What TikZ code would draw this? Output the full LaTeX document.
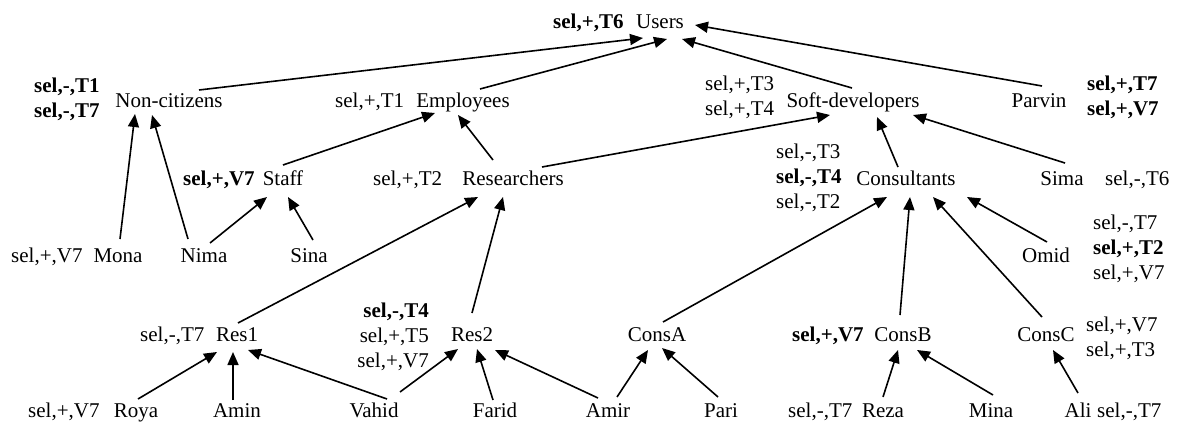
\documentclass[tikz,border=0pt]{standalone}
\usepackage{fontspec}
\setmainfont{Liberation Serif}
\usetikzlibrary{arrows.meta}
\newcommand\edgearr[4]{\draw[arr] ([shift={#2}]#1.base) -- ([shift={#4}]#3.base);}
\begin{document}
\begin{tikzpicture}[x=1pt,y=-1pt,
  txt/.style={inner sep=0pt,font=\fontsize{21}{25}\selectfont,anchor=base},
  lbl/.style={inner sep=0pt,font=\fontsize{21}{25}\selectfont,anchor=base west},
  lblr/.style={inner sep=0pt,font=\fontsize{21}{25}\selectfont,anchor=base east},
  arr/.style={line width=1.6pt,-{Triangle[length=13pt,width=11pt]}}]
\useasboundingbox (0,0) rectangle (1180,423);
% row 1
\node[txt] (users) at (660,28) {Users};
\node[lbl] (lusers) at (553,28) {\bfseries sel,+,T6};
% row 2
\node[txt] (noncit) at (169,107) {Non-citizens};
\node[lbl] (lnc1) at (34,92) {\bfseries sel,-,T1};
\node[lbl] (lnc2) at (34,117) {\bfseries sel,-,T7};
\node[txt] (emp) at (463,107) {Employees};
\node[lbl] (lemp) at (335,107) {sel,+,T1};
\node[txt] (soft) at (853,107) {Soft-developers};
\node[lbl] (lsoft1) at (705,90) {sel,+,T3};
\node[lbl] (lsoft2) at (705,115) {sel,+,T4};
\node[txt] (parvin) at (1039,107) {Parvin};
\node[lbl] (lpar1) at (1087,90) {\bfseries sel,+,T7};
\node[lbl] (lpar2) at (1087,115) {\bfseries sel,+,V7};
% row 3
\node[txt] (staff) at (283,185) {Staff};
\node[lbl] (lstaff) at (183,185) {\bfseries sel,+,V7};
\node[txt] (res) at (513,185) {Researchers};
\node[lbl] (lres) at (373,185) {sel,+,T2};
\node[txt] (cons) at (906,185) {Consultants};
\node[lbl] (lcons1) at (776,158) {sel,-,T3};
\node[lbl] (lcons2) at (776,183) {\bfseries sel,-,T4};
\node[lbl] (lcons3) at (776,208) {sel,-,T2};
\node[txt] (sima) at (1062,185) {Sima};
\node[lbl] (lsima) at (1105,185) {sel,-,T6};
% row 4
\node[txt] (mona) at (118,262) {Mona};
\node[lbl] (lmona) at (11,262) {sel,+,V7};
\node[txt] (nima) at (204,262) {Nima};
\node[txt] (sina) at (309,262) {Sina};
\node[txt] (omid) at (1046,262) {Omid};
\node[lbl] (lomid1) at (1093,229) {sel,-,T7};
\node[lbl] (lomid2) at (1093,254) {\bfseries sel,+,T2};
\node[lbl] (lomid3) at (1093,279) {sel,+,V7};
% row 5
\node[txt] (res1) at (237,341) {Res1};
\node[lbl] (lres1) at (140,341) {sel,-,T7};
\node[txt] (res2) at (472,341) {Res2};
\node[lblr] (lres21) at (429,317) {\bfseries sel,-,T4};
\node[lblr] (lres22) at (429,342) {sel,+,T5};
\node[lblr] (lres23) at (429,367) {sel,+,V7};
\node[txt] (consA) at (657,341) {ConsA};
\node[txt] (consB) at (903,341) {ConsB};
\node[lbl] (lconsB) at (792,341) {\bfseries sel,+,V7};
\node[txt] (consC) at (1046,341) {ConsC};
\node[lbl] (lconsC1) at (1086,331) {sel,+,V7};
\node[lbl] (lconsC2) at (1086,356) {sel,+,T3};
% row 6
\node[txt] (roya) at (136,417) {Roya};
\node[lbl] (lroya) at (28,417) {sel,+,V7};
\node[txt] (amin) at (237,417) {Amin};
\node[txt] (vahid) at (374,417) {Vahid};
\node[txt] (farid) at (495,417) {Farid};
\node[txt] (amir) at (608,417) {Amir};
\node[txt] (pari) at (721,417) {Pari};
\node[txt] (reza) at (883,417) {Reza};
\node[lbl] (lreza) at (788,417) {sel,-,T7};
\node[txt] (mina) at (991,417) {Mina};
\node[txt] (ali) at (1078,417) {Ali};
\node[lbl] (lali) at (1097,417) {sel,-,T7};
% edges
\edgearr{noncit}{(30,-17)}{users}{(-17,10)}
\edgearr{emp}{(17,-18)}{users}{(7,11)}
\edgearr{soft}{(-1,-19)}{users}{(22,11)}
\edgearr{parvin}{(3,-21)}{users}{(35,-3)}
\edgearr{mona}{(2,-23)}{noncit}{(-34,7)}
\edgearr{nima}{(-16,-23)}{noncit}{(-17,8)}
\edgearr{staff}{(0,-20)}{emp}{(-28,6)}
\edgearr{res}{(-20,-25)}{emp}{(-5,8)}
\edgearr{res}{(29,-18)}{soft}{(-23,8)}
\edgearr{cons}{(-8,-18)}{soft}{(24,10)}
\edgearr{sima}{(3,-22)}{soft}{(60,8)}
\edgearr{nima}{(6,-19)}{staff}{(-16,12)}
\edgearr{sina}{(4,-22)}{staff}{(5,12)}
\edgearr{res1}{(1,-18)}{res}{(-35,12)}
\edgearr{res2}{(0,-28)}{res}{(-10,12)}
\edgearr{consA}{(6,-19)}{cons}{(-19,12)}
\edgearr{consB}{(-3,-26)}{cons}{(4,12)}
\edgearr{consC}{(-4,-24)}{cons}{(27,12)}
\edgearr{omid}{(1,-20)}{cons}{(61,12)}
\edgearr{roya}{(2,-18)}{res1}{(-20,11)}
\edgearr{amin}{(-4,-17)}{res1}{(-4,11)}
\edgearr{vahid}{(13,-18)}{res1}{(11,9)}
\edgearr{vahid}{(26,-25)}{res2}{(-14,8)}
\edgearr{farid}{(-2,-17)}{res2}{(5,8)}
\edgearr{amir}{(-10,-19)}{res2}{(23,9)}
\edgearr{amir}{(9,-20)}{consA}{(-9,9)}
\edgearr{pari}{(-3,-20)}{consA}{(5,7)}
\edgearr{reza}{(0,-20)}{consB}{(-5,9)}
\edgearr{mina}{(2,-22)}{consB}{(14,9)}
\edgearr{ali}{(0,-24)}{consC}{(7,9)}
\end{tikzpicture}
\end{document}
